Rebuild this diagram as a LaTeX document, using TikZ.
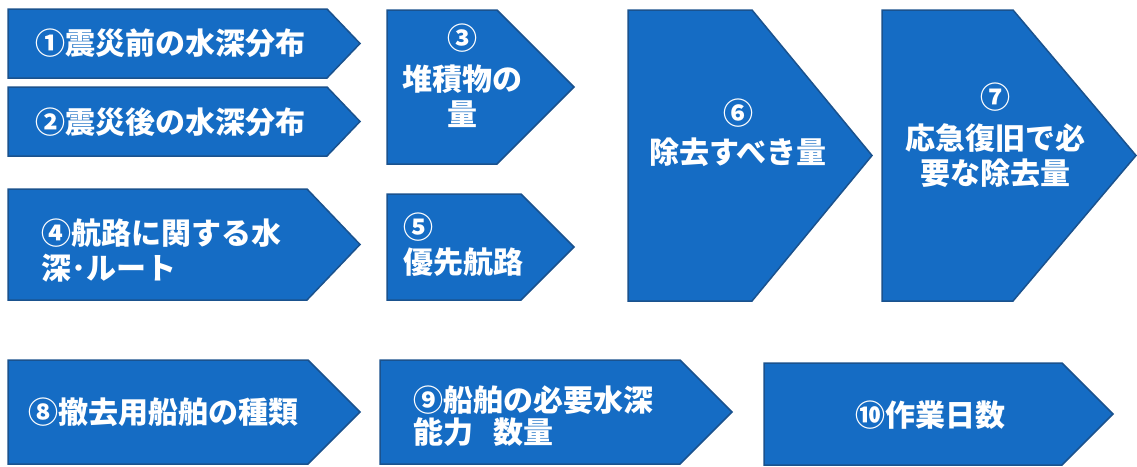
\documentclass[tikz,border=0pt]{standalone}
\usepackage{fontspec}
\newfontfamily\jpfont{Noto Sans CJK JP}
\usepackage{tikz}
\usetikzlibrary{shapes,arrows,positioning}
\definecolor{boxblue}{RGB}{21,108,196}
\definecolor{boxedge}{RGB}{26,82,142}
\tikzstyle{abox} = [draw=boxedge, fill=boxblue, line width=1.5pt, line join=miter]
\tikzstyle{wtext} = [text=white, inner sep=0pt, font=\jpfont\bfseries\fontsize{30}{35}\selectfont]

\begin{document}
\begin{tikzpicture}[x=1pt, y=-1pt]
			\useasboundingbox (0,0) rectangle (1137,466);

			\path [abox] (8,9) -- (327,9) -- (360,43.5) -- (327,78) -- (8,78) -- cycle;
			\path [abox] (8,87) -- (327,87) -- (360,121.5) -- (327,156) -- (8,156) -- cycle;
			\path [abox] (387,10) -- (497,10) -- (574,87) -- (497,164) -- (387,164) -- cycle;
			\path [abox] (8,189) -- (307,189) -- (360,244.5) -- (307,300) -- (8,300) -- cycle;
			\path [abox] (387,194) -- (521,194) -- (574,247) -- (521,300) -- (387,300) -- cycle;
			\path [abox] (628,10) -- (752,10) -- (872,155.5) -- (752,301) -- (628,301) -- cycle;
			\path [abox] (882,10) -- (1013,10) -- (1136,155.5) -- (1013,301) -- (882,301) -- cycle;
			\path [abox] (8,360) -- (308,360) -- (360,412) -- (308,464) -- (8,464) -- cycle;
			\path [abox] (380,360) -- (680,360) -- (732,412) -- (680,464) -- (380,464) -- cycle;
			\path [abox] (764,363) -- (1062,363) -- (1113,414) -- (1062,465) -- (764,465) -- cycle;

			\node [wtext] (t1) at (170,43) {①震災前の水深分布};
			\node [wtext] (t2) at (170,122) {②震災後の水深分布};
			\node [wtext, align=center] (t3) at (462,76) {③\\[6pt]堆積物の\\量};
			\node [wtext, align=left, anchor=west] (t4) at (41,250.5) {④航路に関する水\\深･ルート};
			\node [wtext, align=left, anchor=west] (t5) at (403,244.5) {⑤\\優先航路};
			\node [wtext, align=center] (t6) at (738,133) {⑥\\[4pt]除去すべき量};
			\node [wtext, align=center] (t7) at (995,135) {⑦\\[6pt]応急復旧で必\\要な除去量};
			\node [wtext] (t8) at (163,412) {⑧撤去用船舶の種類};
			\node [wtext, align=left, anchor=west] (t9) at (413,416) {⑨船舶の必要水深\\[-3pt]能力\hspace{20pt}数量};
			\node [wtext] (t10) at (930,415) {⑩作業日数};
\end{tikzpicture}
\end{document}
